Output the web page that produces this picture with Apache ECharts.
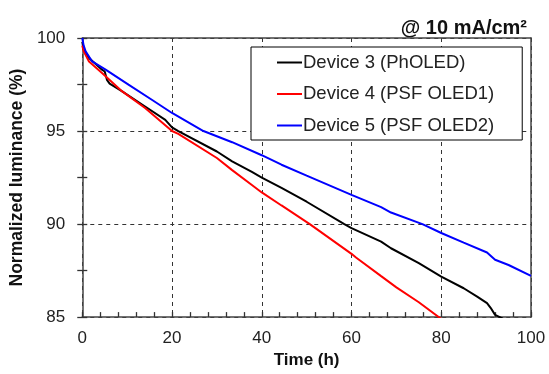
<!DOCTYPE html>
<html>
<head>
<meta charset="utf-8">
<script src="https://cdn.jsdelivr.net/npm/echarts@6/dist/echarts.min.js"></script>
<style>
  html, body { margin: 0; padding: 0; background: #fff; }
  #chart { width: 549px; height: 374px; }
</style>
</head>
<body>
<div id="chart"></div>
<script>
// values: [time (h), normalized luminance (%)]
const device3 = [
  [0, 99.8], [0.3, 99.4], [1.5, 98.92], [4.4, 98.3], [5.0, 98.2], [5.5, 97.75],
  [6.1, 97.55], [8.9, 97.13], [14, 96.32], [18.5, 95.6], [20, 95.2], [21.4, 95.0],
  [30, 93.9], [33.4, 93.37], [37.8, 92.8], [40, 92.5], [44.4, 91.94], [50, 91.2],
  [58.4, 90.0], [60, 89.78], [66.6, 89.06], [68.8, 88.7], [75, 87.9], [80, 87.18],
  [85, 86.55], [88, 86.1], [90.2, 85.75], [91, 85.5], [92, 85.12], [93.5, 84.95], [95, 84.7]
];
const device4 = [
  [0, 99.6], [0.3, 99.3], [1.5, 98.74], [4.4, 98.12], [8.9, 97.13], [14, 96.24],
  [20, 95.0], [21.4, 94.85], [30, 93.55], [33.4, 92.9], [37.8, 92.1], [40, 91.7],
  [44.4, 91.0], [50.7, 90.0], [60, 88.4], [61, 88.2], [66.6, 87.2], [70, 86.6],
  [75, 85.8], [80, 84.9]
];
const device5 = [
  [0, 100], [0.3, 99.6], [0.75, 99.28], [2.2, 98.74], [5.2, 98.3], [10.3, 97.49],
  [15.5, 96.68], [20, 95.97], [27, 95.0], [33.4, 94.4], [40, 93.7], [44.4, 93.19],
  [50, 92.6], [60, 91.57], [66.6, 90.91], [68.8, 90.62], [75.8, 90.0], [80, 89.52],
  [85, 89.0], [90.2, 88.47], [91, 88.3], [92, 88.08], [95, 87.8], [100, 87.22]
];
const seriesNames = ['Device 3 (PhOLED)', 'Device 4 (PSF OLED1)', 'Device 5 (PSF OLED2)'];
const seriesColors = ['#000000', '#ff0000', '#0000ff'];
const seriesData = [device3, device4, device5];
const xLabelStep = 20; // labelled x ticks, minor ticks every 4 h

const font = 'Liberation Sans, Arial, sans-serif';
const frame = { show: true, onZero: false, lineStyle: { color: '#444', width: 1.5 } };
const grid = { show: true, lineStyle: { color: '#333', type: [4, 4], width: 1 } };
const ticks = { show: true, inside: true, length: 5, lineStyle: { color: '#333', width: 1.3 } };

// y axes that only carry the small inward tick marks
const tickY = (pos) => ({ type: 'value', min: 85, max: 100, interval: 2.5, position: pos,
  axisLine: { show: false }, axisTick: ticks, axisLabel: { show: false }, splitLine: { show: false } });

const chart = echarts.init(document.getElementById('chart'));
chart.setOption({
  animation: false,
  textStyle: { fontFamily: font },
  title: {
    text: '@ 10 mA/cm²',
    right: 17, top: 13,
    textStyle: { fontFamily: font, fontSize: 20, fontWeight: 'bold', color: '#111' }
  },
  legend: {
    data: seriesNames,
    icon: 'rect',
    orient: 'vertical',
    left: 251, top: 47,
    padding: [6, 28, 5, 26],
    itemWidth: 25, itemHeight: 2, itemGap: 12.5,
    backgroundColor: '#fff',
    borderColor: '#000', borderWidth: 1,
    textStyle: { fontFamily: font, fontSize: 18.5, color: '#222', lineHeight: 18, padding: [0, 0, 0, -4] }
  },
  grid: { left: 79, right: 18, top: 38, bottom: 55, containLabel: false },
  xAxis: [{
    type: 'value', min: 0, max: 100, interval: 4, position: 'bottom',
    name: 'Time (h)', nameLocation: 'middle', nameGap: 30,
    nameTextStyle: { fontFamily: font, fontSize: 17, fontWeight: 'bold', color: '#111' },
    axisLine: frame,
    axisTick: ticks,
    axisLabel: {
      fontFamily: font, fontSize: 17, color: '#222', margin: 13,
      formatter: (v) => (v % xLabelStep === 0 ? String(v) : '')
    },
    splitLine: { show: false }
  }, {
    type: 'value', min: 0, max: 100, interval: 20, position: 'top',
    axisLine: frame, axisTick: { show: false }, axisLabel: { show: false }, splitLine: grid
  }],
  yAxis: [{
    type: 'value', min: 85, max: 100, interval: 5,
    name: 'Normalized luminance (%)', nameLocation: 'middle', nameGap: 41,
    nameTextStyle: { fontFamily: font, fontSize: 17.5, fontWeight: 'bold', color: '#111' },
    axisLine: frame,
    axisTick: { show: false },
    axisLabel: { fontFamily: font, fontSize: 17, color: '#222', margin: 17 },
    splitLine: grid
  }, {
    type: 'value', min: 85, max: 100, interval: 5, position: 'right',
    axisLine: frame, axisTick: { show: false }, axisLabel: { show: false }, splitLine: { show: false }
  }, tickY('left'), tickY('right')],
  series: seriesData.map((d, i) => ({
    name: seriesNames[i],
    type: 'line',
    data: d,
    symbol: 'none',
    clip: true,
    color: seriesColors[i],
    lineStyle: { color: seriesColors[i], width: 2 }
  }))
});
</script>
</body>
</html>
